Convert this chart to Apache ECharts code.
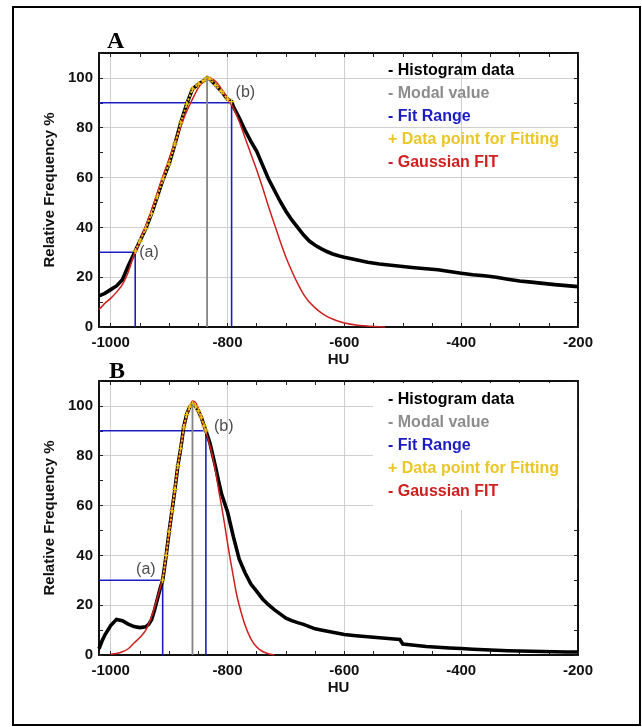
<!DOCTYPE html>
<html>
<head>
<meta charset="utf-8">
<script src="https://cdn.jsdelivr.net/npm/echarts@6/dist/echarts.min.js"></script>
<style>
html,body{margin:0;padding:0;background:#fff;}
#chart{width:642px;height:727px;}
</style>
</head>
<body>
<div id="chart"></div>
<script>
// ---------- DATA ----------
const xTickLabels = [-1000, -800, -600, -400, -200];
const yTickLabels = [0, 20, 40, 60, 80, 100];
const legendNames = ['Histogram data', 'Modal value', 'Fit Range', 'Data point for Fitting', 'Gaussian FIT'];

// Panel A
const histA_x = [-1020,-1010,-1000,-990,-980,-970,-960,-958,-950,-940,-930,-920,-910,-900,-890,-880,-870,-860,-850,-840,-835,-830,-820,-810,-800,-793,-790,-780,-770,-760,-750,-740,-730,-720,-710,-700,-690,-680,-670,-660,-650,-640,-630,-620,-610,-600,-580,-560,-540,-520,-500,-480,-460,-440,-420,-400,-380,-360,-340,-320,-300,-280,-260,-240,-220,-200];
const histA_y = [12.5,13.5,15,16.5,19,24.5,29.5,30.5,34.5,39.5,45.5,52.5,59.5,65.5,73.5,82,89.5,95.5,97.5,99,100,99.5,97,94.5,91.5,90.5,88.5,84,79,74.5,70.5,65,59.5,55,50.5,46.5,43,40,37,34.5,32.8,31.5,30.3,29.3,28.6,28,27,26,25.3,24.8,24.3,23.8,23.4,23,22.3,21.6,21,20.6,20,19.2,18.5,18,17.5,17,16.6,16.2];
const fitA_x = [-1020,-1010,-1000,-990,-980,-970,-960,-950,-940,-930,-920,-910,-900,-890,-880,-870,-860,-850,-840,-830,-820,-810,-800,-790,-780,-770,-760,-750,-740,-730,-720,-710,-700,-690,-680,-670,-660,-650,-640,-630,-620,-610,-600,-580,-560,-540,-530];
const fitA_y = [7,9.5,11.5,14,17,22,29,34.5,40.5,47,54,61,67.5,74,80.5,86.5,91.5,96,99,100,98.5,95.5,91.5,88,82.5,76,69.5,63,56,48.5,41.5,34.5,28,22.5,17.5,13.2,10,7.7,5.8,4.3,3.2,2.3,1.6,0.8,0.4,0.1,0];
const modalA = -835;
const rangeA_low = [-958, 30];
const rangeA_high = [-793, 90];

// Panel B
const histB_x = [-1020,-1015,-1010,-1000,-990,-980,-970,-960,-950,-940,-935,-930,-925,-920,-915,-911,-905,-900,-895,-890,-885,-880,-875,-870,-865,-860,-855,-850,-845,-840,-837,-830,-825,-820,-815,-810,-805,-800,-795,-790,-785,-780,-770,-760,-750,-740,-730,-720,-710,-700,-690,-680,-670,-660,-650,-640,-620,-600,-580,-560,-540,-520,-505,-500,-480,-460,-440,-420,-400,-380,-360,-340,-320,-300,-280,-260,-240,-220,-200];
const histB_y = [2.5,5.5,8,11.8,14.3,13.8,12.4,11.4,11,11.3,12.3,14.2,18,22.5,27,30,40,49.5,58,66.5,76,83,91.5,96.5,99.5,100.8,100,98,95.5,92,90,85,80,75,69.5,64.5,61,57.5,52.5,47.5,43,38.5,33,28.5,25.5,22.5,20.2,18.2,16.5,14.8,13.8,13,12.3,11.4,10.5,10,9.1,8.2,7.7,7.3,6.9,6.5,6.2,4.4,3.9,3.4,3.1,2.8,2.6,2.3,2.1,1.9,1.7,1.6,1.5,1.4,1.3,1.2,1.2];
const fitB_x = [-1000,-990,-980,-970,-960,-950,-940,-930,-920,-910,-905,-900,-895,-890,-885,-880,-875,-870,-865,-860,-855,-850,-845,-840,-835,-830,-825,-820,-815,-810,-805,-800,-795,-790,-785,-780,-770,-760,-750,-740,-730,-720];
const fitB_y = [0.3,0.6,1.3,2.5,4.8,7,10,15.5,23,32,40.5,49,58,67,76,83.5,90.5,96,99.5,102,101.5,99,95,91.5,88,84,79,73,66,59.5,52.5,45,38,31.5,25,20,12,6.5,3.2,1.4,0.5,0];
const modalB = -860;
const rangeB_low = [-911, 30];
const rangeB_high = [-837, 90];

// ---------- STYLE ----------
const X_MIN = -1020, X_MAX = -200, Y_MIN = 0, Y_MAX = 110;
const FONT = '"Liberation Sans", Arial, sans-serif';
const C_BLACK = '#000000', C_GRAY = '#848484', C_BLUE = '#1c1cc4', C_YELLOW = '#f0c419', C_RED = '#cf1f1f';
const legendColors = {'Histogram data': '#000', 'Modal value': '#8c8c8c', 'Fit Range': '#1c1cc4', 'Data point for Fitting': '#ebc627', 'Gaussian FIT': '#cf1f1f'};
const plusSymbol = 'path://M4,0 L6,0 L6,4 L10,4 L10,6 L6,6 L6,10 L4,10 L4,6 L0,6 L0,4 L4,4 Z';

function zip(xs, ys) { return xs.map((x, i) => [x, ys[i]]); }
function inRange(xs, ys, lo, hi) { return zip(xs, ys).filter(p => p[0] >= lo && p[0] <= hi); }

const grids = [
  {left: 99, top: 53, width: 479, height: 274},
  {left: 99, top: 381, width: 479, height: 274}
];

function makeXAxes(gi) {
  const common = {
    type: 'value', gridIndex: gi, min: X_MIN, max: X_MAX, splitNumber: 5,
    axisLine: {show: true, onZero: false, lineStyle: {color: '#111', width: 2}},
    axisTick: {show: true, inside: true, length: 4, lineStyle: {color: '#222', width: 1}},
    minorTick: {show: true, splitNumber: 4, length: 4, lineStyle: {color: '#222', width: 1}}
  };
  return [
    Object.assign({}, common, {
      position: 'bottom',
      name: 'HU', nameLocation: 'middle', nameGap: 25,
      nameTextStyle: {fontFamily: FONT, fontWeight: 'bold', fontSize: 15, color: '#111'},
      axisLabel: {show: true, margin: 8, fontFamily: FONT, fontWeight: 'bold', fontSize: 15, color: '#111',
        formatter: v => xTickLabels.includes(v) ? String(v) : ''},
      splitLine: {show: true, lineStyle: {color: '#cfcfcf', width: 1}}
    }),
    Object.assign({}, common, {
      position: 'top', axisLabel: {show: false}, splitLine: {show: false}
    })
  ];
}
function makeYAxes(gi) {
  const common = {
    type: 'value', gridIndex: gi, min: Y_MIN, max: Y_MAX, interval: 20,
    axisLine: {show: true, onZero: false, lineStyle: {color: '#111', width: 2}},
    axisTick: {show: true, inside: true, length: 4, lineStyle: {color: '#222', width: 1}},
    minorTick: {show: true, splitNumber: 2, length: 4, lineStyle: {color: '#222', width: 1}}
  };
  return [
    Object.assign({}, common, {
      position: 'left',
      name: 'Relative Frequency %', nameLocation: 'middle', nameGap: 28,
      nameTextStyle: {fontFamily: FONT, fontWeight: 'bold', fontSize: 15, color: '#111'},
      axisLabel: {show: true, margin: 6, fontFamily: FONT, fontWeight: 'bold', fontSize: 15, color: '#111',
        formatter: v => yTickLabels.includes(v) ? String(v) : ''},
      splitLine: {show: true, lineStyle: {color: '#cfcfcf', width: 1}}
    }),
    Object.assign({}, common, {
      position: 'right', axisLabel: {show: false}, splitLine: {show: false}
    })
  ];
}

function panelSeries(axisIdx, hx, hy, fx, fy, modal, low, high, labelCfg) {
  const base = {xAxisIndex: axisIdx, yAxisIndex: axisIdx, silent: true, animation: false};
  const modalPeak = Math.max(...hy);
  return [
    Object.assign({}, base, {
      name: 'Fit Range', type: 'line', symbol: 'none', z: 3,
      data: [[X_MIN, low[1]], low, [low[0], 0]],
      lineStyle: {color: C_BLUE, width: 1.6}
    }),
    Object.assign({}, base, {
      name: 'Fit Range', type: 'line', symbol: 'none', z: 3,
      data: [[X_MIN, high[1]], high, [high[0], 0]],
      lineStyle: {color: C_BLUE, width: 1.6}
    }),
    Object.assign({}, base, {
      name: 'Histogram data', type: 'line', symbol: 'none', z: 4,
      data: zip(hx, hy),
      lineStyle: {color: C_BLACK, width: 3.6, join: 'miter'}
    }),
    Object.assign({}, base, {
      name: 'Gaussian FIT', type: 'line', symbol: 'none', z: 5, smooth: 0.2,
      data: zip(fx, fy),
      lineStyle: {color: C_RED, width: 1.5}
    }),
    Object.assign({}, base, {
      name: 'Data point for Fitting', type: 'line', z: 6,
      data: inRange(hx, hy, low[0], high[0]),
      symbol: plusSymbol, symbolSize: 6, showAllSymbol: true,
      itemStyle: {color: C_YELLOW},
      lineStyle: {color: C_YELLOW, width: 2, type: [2, 2]}
    }),
    Object.assign({}, base, {
      name: 'Modal value', type: 'line', symbol: 'none', z: 7,
      data: [[modal, 0], [modal, modalPeak]],
      lineStyle: {color: C_GRAY, width: 1.8}
    }),
    Object.assign({}, base, {
      name: 'annot', type: 'scatter', symbolSize: 0, z: 8,
      data: [
        {value: low, label: Object.assign({show: true, formatter: '(a)'}, labelCfg.a)},
        {value: high, label: Object.assign({show: true, formatter: '(b)'}, labelCfg.b)}
      ],
      label: {fontFamily: FONT, fontSize: 16, color: '#1a1a1a'}
    })
  ];
}

function makeLegend(top, withBg) {
  return {
    left: withBg ? 373 : 383, top: top, orient: 'vertical',
    icon: 'none', itemWidth: 0, itemHeight: 16, itemGap: 7,
    selectedMode: false,
    backgroundColor: withBg ? '#ffffff' : 'transparent',
    padding: withBg ? [9, 18, 10, 10] : 0,
    formatter: n => (n === 'Data point for Fitting' ? '+ ' : '- ') + n,
    data: legendNames.map(n => ({name: n, textStyle: {color: legendColors[n]}})),
    textStyle: {fontFamily: FONT, fontWeight: 'bold', fontSize: 16, lineHeight: 16}
  };
}

const option = {
  backgroundColor: '#ffffff',
  animation: false,
  grid: grids,
  xAxis: [].concat(makeXAxes(0), makeXAxes(1)),
  yAxis: [].concat(makeYAxes(0), makeYAxes(1)),
  legend: [makeLegend(63, false), makeLegend(383, true)],
  graphic: [
    {type: 'rect', shape: {x: 13, y: 7, width: 627, height: 718}, style: {fill: 'none', stroke: '#000', lineWidth: 2}, silent: true},
    {type: 'text', left: 107, top: 30, style: {text: 'A', font: 'bold 24px "Liberation Serif", "Times New Roman", serif', fill: '#000'}},
    {type: 'text', left: 109, top: 360, style: {text: 'B', font: 'bold 24px "Liberation Serif", "Times New Roman", serif', fill: '#000'}}
  ],
  series: [].concat(
    panelSeries(0, histA_x, histA_y, fitA_x, fitA_y, modalA, rangeA_low, rangeA_high,
      {a: {position: 'right', distance: 4, offset: [0, 0]}, b: {position: 'right', distance: 4, offset: [0, -10]}}),
    panelSeries(2, histB_x, histB_y, fitB_x, fitB_y, modalB, rangeB_low, rangeB_high,
      {a: {position: 'left', distance: 7, offset: [0, -11]}, b: {position: 'right', distance: 8, offset: [0, -4]}})
  )
};

const chart = echarts.init(document.getElementById('chart'), null, {renderer: 'canvas'});
chart.setOption(option);
</script>
</body>
</html>
